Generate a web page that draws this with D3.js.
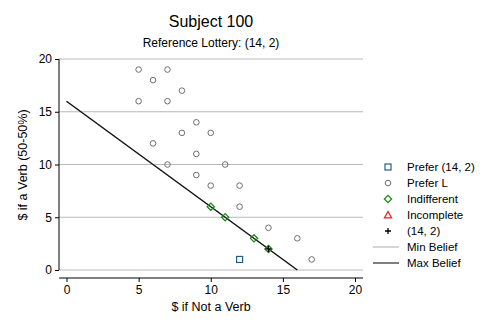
<!DOCTYPE html>
<html>
<head>
<meta charset="utf-8">
<script src="https://cdn.jsdelivr.net/npm/d3@7"></script>
<style>
  body { margin: 0; background: #fff; }
  text { font-family: "Liberation Sans", Arial, sans-serif; }
</style>
</head>
<body>
<div id="chart"></div>
<script>
// data
const preferRef = [[12, 1]];
const preferL = [[5, 19], [7, 19], [6, 18], [8, 17], [5, 16], [7, 16], [9, 14], [8, 13], [10, 13],
  [6, 12], [9, 11], [11, 10], [7, 10], [9, 9], [10, 8], [12, 8], [12, 6], [14, 4], [16, 3], [17, 1]];
const indifferent = [[10, 6], [11, 5], [13, 3], [14, 2]];
const incomplete = [];
const refPoint = [[14, 2]];
const minBelief = [[0, 16], [16, 0]];
const maxBelief = [[0, 16], [16, 0]];
const xTicks = [0, 5, 10, 15, 20];
const yTicks = [0, 5, 10, 15, 20];
const legendLabels = ["Prefer (14, 2)", "Prefer L", "Indifferent", "Incomplete", "(14, 2)", "Min Belief", "Max Belief"];

const WIDTH = 498, HEIGHT = 332;
const PLOT = { left: 59, right: 363, top: 59, bottom: 270 };

const svg = d3.select('#chart').append('svg')
  .attr('width', WIDTH)
  .attr('height', HEIGHT);

const x = d3.scaleLinear().domain([0, 20]).range([66.5, 355]);
const y = d3.scaleLinear().domain([0, 20]).range([PLOT.bottom, PLOT.top]);

// titles
svg.append('text').attr('x', 211).attr('y', 27).attr('text-anchor', 'middle')
  .attr('font-size', 16).text('Subject 100');
svg.append('text').attr('x', 211).attr('y', 47).attr('text-anchor', 'middle')
  .attr('font-size', 12).text('Reference Lottery: (14, 2)');

// grid
svg.append('g').selectAll('line').data(yTicks).enter().append('line')
  .attr('x1', PLOT.left).attr('x2', PLOT.right)
  .attr('y1', d => y(d)).attr('y2', d => y(d))
  .attr('stroke', '#b8b8b8').attr('stroke-width', 1);

// y axis
const yAxis = svg.append('g')
  .attr('transform', `translate(${PLOT.left},0)`)
  .call(d3.axisLeft(y).tickValues(yTicks).tickSize(4).tickPadding(3));
yAxis.select('.domain').attr('d', `M0,${PLOT.top}V${PLOT.bottom}`).attr('stroke', '#000');
yAxis.selectAll('text').attr('font-size', 12).attr('font-family', '"Liberation Sans", Arial, sans-serif');

// x axis
const xAxis = svg.append('g')
  .attr('transform', 'translate(0,278)')
  .call(d3.axisBottom(x).tickValues(xTicks).tickSize(4).tickPadding(3));
xAxis.select('.domain').attr('d', `M${PLOT.left},0H${PLOT.right}`).attr('stroke', '#000');
xAxis.selectAll('text').attr('font-size', 12).attr('font-family', '"Liberation Sans", Arial, sans-serif');

// axis titles
svg.append('text').attr('x', 211).attr('y', 311).attr('text-anchor', 'middle')
  .attr('font-size', 12.5).text('$ if Not a Verb');
svg.append('text').attr('transform', 'translate(27,165) rotate(-90)').attr('text-anchor', 'middle')
  .attr('font-size', 12.5).text('$ if a Verb (50-50%)');

// belief lines
const line = d3.line().x(d => x(d[0])).y(d => y(d[1]));
svg.append('path').datum(minBelief).attr('d', line)
  .attr('fill', 'none').attr('stroke', '#c8c8c8').attr('stroke-width', 1.3);
svg.append('path').datum(maxBelief).attr('d', line)
  .attr('fill', 'none').attr('stroke', '#111').attr('stroke-width', 1.3);

// markers
function drawMarker(g, type, cx, cy) {
  if (type === 'square') {
    g.append('rect').attr('x', cx - 3).attr('y', cy - 3).attr('width', 6).attr('height', 6)
      .attr('fill', 'none').attr('stroke', '#1f5d96').attr('stroke-width', 1.2);
  } else if (type === 'circle') {
    g.append('circle').attr('cx', cx).attr('cy', cy).attr('r', 2.8)
      .attr('fill', 'none').attr('stroke', '#6e6e6e').attr('stroke-width', 1);
  } else if (type === 'diamond') {
    g.append('path').attr('d', `M${cx},${cy - 3.6}L${cx + 3.6},${cy}L${cx},${cy + 3.6}L${cx - 3.6},${cy}Z`)
      .attr('fill', 'none').attr('stroke', '#1a8a1a').attr('stroke-width', 1.3);
  } else if (type === 'triangle') {
    g.append('path').attr('d', `M${cx},${cy - 3.5}L${cx + 3.5},${cy + 2.8}L${cx - 3.5},${cy + 2.8}Z`)
      .attr('fill', 'none').attr('stroke', '#e8202a').attr('stroke-width', 1.3);
  } else if (type === 'plus') {
    g.append('path').attr('d', `M${cx - 3},${cy}H${cx + 3}M${cx},${cy - 3}V${cy + 3}`)
      .attr('stroke', '#000').attr('stroke-width', 1.3);
  }
}

const marks = svg.append('g');
preferRef.forEach(d => drawMarker(marks, 'square', x(d[0]), y(d[1])));
preferL.forEach(d => drawMarker(marks, 'circle', x(d[0]), y(d[1])));
indifferent.forEach(d => drawMarker(marks, 'diamond', x(d[0]), y(d[1])));
incomplete.forEach(d => drawMarker(marks, 'triangle', x(d[0]), y(d[1])));
refPoint.forEach(d => drawMarker(marks, 'plus', x(d[0]), y(d[1])));

// legend
const legendTypes = ['square', 'circle', 'diamond', 'triangle', 'plus', 'minline', 'maxline'];
const legend = svg.append('g');
legendLabels.forEach((label, i) => {
  const ly = 167 + i * 16;
  const t = legendTypes[i];
  if (t === 'minline' || t === 'maxline') {
    legend.append('line').attr('x1', 373).attr('x2', 399).attr('y1', ly).attr('y2', ly)
      .attr('stroke', t === 'minline' ? '#c8c8c8' : '#555').attr('stroke-width', 1.5);
  } else {
    drawMarker(legend, t, 388, ly);
  }
  legend.append('text').attr('x', 407).attr('y', ly + 4).attr('font-size', 11.5).text(label);
});
</script>
</body>
</html>
